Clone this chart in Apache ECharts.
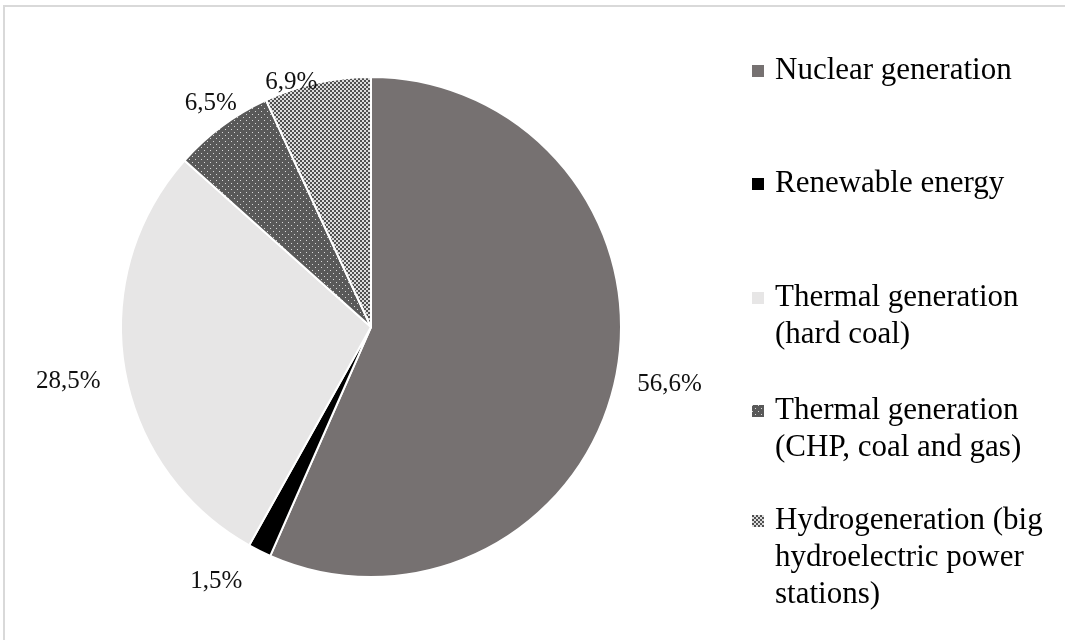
<!DOCTYPE html>
<html>
<head>
<meta charset="utf-8">
<script src="https://cdn.jsdelivr.net/npm/echarts@6/dist/echarts.min.js"></script>
<style>
  html, body { margin: 0; padding: 0; background: #ffffff; overflow: hidden; width: 1065px; height: 640px; }
  #frame {
    position: absolute; left: 3px; top: 5px; width: 1080px; height: 660px;
    border-left: 2px solid #d9d9d9; border-top: 2px solid #d9d9d9;
  }
  #chart { position: absolute; left: 0; top: 0; width: 1065px; height: 640px; }
</style>
</head>
<body>
<div id="frame"></div>
<div id="chart"></div>
<script>
// Electricity generation structure, share of each source (%)
const categories = [
  'Nuclear generation',
  'Renewable energy',
  'Thermal generation (hard coal)',
  'Thermal generation (CHP, coal and gas)',
  'Hydrogeneration (big hydroelectric power stations)'
];
const shares = [56.6, 1.5, 28.5, 6.5, 6.9];
// Legend text split into lines
const legendLines = [
  ['Nuclear generation'],
  ['Renewable energy'],
  ['Thermal generation', '(hard coal)'],
  ['Thermal generation', '(CHP, coal and gas)'],
  ['Hydrogeneration (big', 'hydroelectric power', 'stations)']
];

// Fill patterns for the two hatched slices
function dotPattern() {
  const c = document.createElement('canvas');
  c.width = 6; c.height = 6;
  const g = c.getContext('2d');
  g.fillStyle = '#595959'; g.fillRect(0, 0, 6, 6);
  g.fillStyle = '#d8d8d8';
  g.fillRect(0, 0, 1, 1);
  g.fillRect(3, 3, 1, 1);
  return { image: c, repeat: 'repeat' };
}
function checkerPattern() {
  const c = document.createElement('canvas');
  c.width = 4; c.height = 4;
  const g = c.getContext('2d');
  g.fillStyle = '#dcdcdc'; g.fillRect(0, 0, 4, 4);
  g.fillStyle = '#505050';
  g.fillRect(0, 0, 2, 2);
  g.fillRect(2, 2, 2, 2);
  return { image: c, repeat: 'repeat' };
}
const fills = ['#767171', '#000000', '#e7e6e6', dotPattern(), checkerPattern()];

const FONT = '"Liberation Serif", "Times New Roman", serif';
const LINE_H = 37;
const ICON = 12;
const ICON_BOX_W = 23;
const legendFirstLineY = [71, 184, 298, 411, 521];
// Nudges of the value labels away from the default outside placement
const labelNudge = [[3, 3], [-6, 18], [-5, 11], [28, -11], [8, 13]];

// One legend block per entry so that the marker sits on the first text line
const legends = categories.map((name, i) => {
  const n = legendLines[i].length;
  const h = (n - 1) * LINE_H + ICON;
  return {
    show: true,
    orient: 'vertical',
    left: 752,
    top: legendFirstLineY[i] - LINE_H / 2,
    padding: 0,
    selectedMode: false,
    itemWidth: ICON_BOX_W - 5,
    itemHeight: h,
    itemGap: 0,
    itemStyle: { borderWidth: 0 },
    data: [{
      name: name,
      icon: 'path://M0,0 L' + ICON + ',0 L' + ICON + ',' + ICON + ' L0,' + ICON +
            ' Z M' + (ICON_BOX_W - 5) + ',' + h + ' L' + (ICON_BOX_W - 5.01) + ',' + h
    }],
    formatter: () => legendLines[i].join('\n'),
    textStyle: { fontFamily: FONT, fontSize: 31, lineHeight: LINE_H, color: '#000000' }
  };
});

const chart = echarts.init(document.getElementById('chart'), null, { renderer: 'canvas' });
chart.setOption({
  animation: false,
  backgroundColor: 'transparent',
  legend: legends,
  series: [{
    type: 'pie',
    center: [371, 327],
    radius: 250,
    startAngle: 90,
    clockwise: true,
    avoidLabelOverlap: false,
    emphasis: { disabled: true },
    itemStyle: { borderColor: '#ffffff', borderWidth: 2 },
    label: {
      show: true,
      position: 'outside',
      fontFamily: FONT,
      fontSize: 25,
      color: '#111111',
      formatter: p => p.value.toFixed(1).replace('.', ',') + '%'
    },
    labelLine: { show: false, length: 14, length2: 0 },
    labelLayout: p => ({ dx: labelNudge[p.dataIndex][0], dy: labelNudge[p.dataIndex][1] }),
    data: categories.map((name, i) => ({
      name: name,
      value: shares[i],
      itemStyle: { color: fills[i] }
    }))
  }]
});
</script>
</body>
</html>
